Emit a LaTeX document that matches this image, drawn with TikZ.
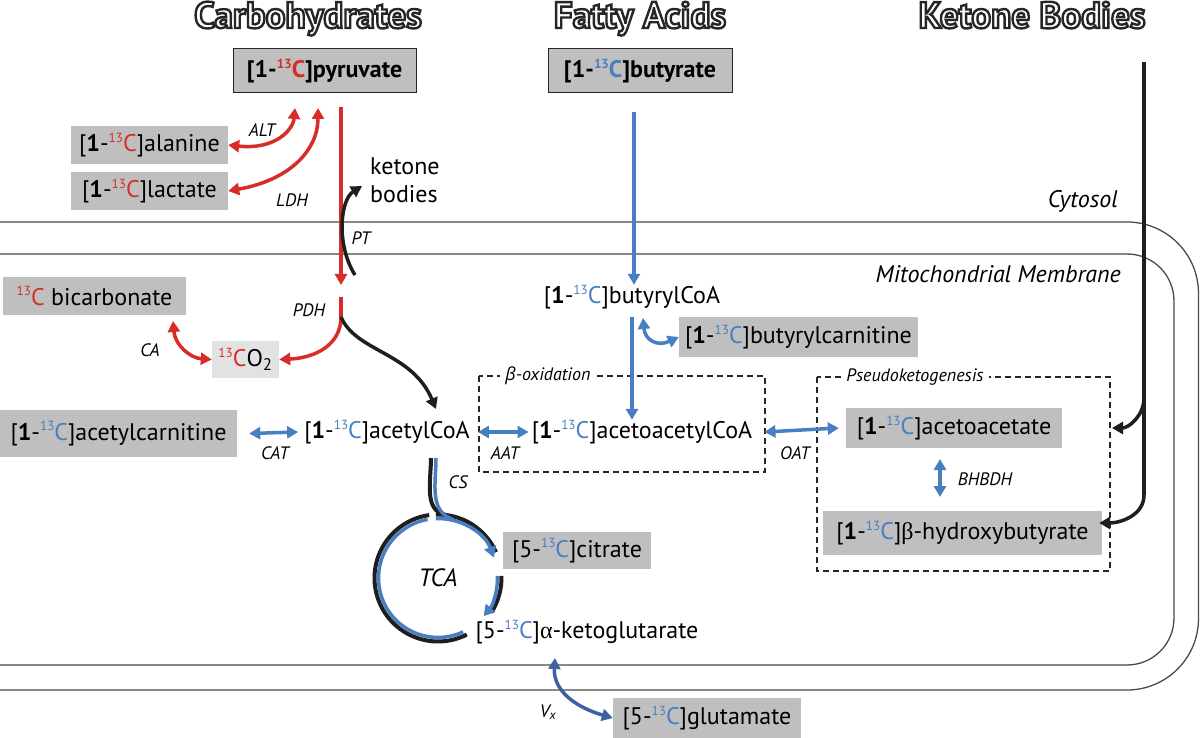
\documentclass[tikz,border=0pt]{standalone}
\usepackage{fontspec}
\setmainfont{PT Sans}
\newfontfamily\grsans{Open Sans}
\newfontfamily\grserif{Liberation Serif}
\usetikzlibrary{arrows.meta}
\definecolor{myred}{RGB}{214,45,40}
\definecolor{myblue}{RGB}{72,126,194}
\definecolor{vxblue}{RGB}{62,98,160}
\definecolor{boxgray}{RGB}{191,191,191}
\definecolor{lightbox}{RGB}{226,226,226}
\definecolor{memb}{RGB}{75,75,75}
\definecolor{kbl}{RGB}{30,30,30}
\definecolor{hdrline}{RGB}{40,40,40}
\newcommand\thirteen{\raisebox{0.38em}{\scalebox{0.55}{13}}}
\newcommand\iso[1]{\textcolor{#1}{\thirteen C}}
\newcommand\lone[2]{[\textbf{1}-\iso{#1}]#2}
\newcommand\lfive[1]{[5-\iso{myblue}]#1}
\newcommand\outlined[1]{\special{pdf:literal direct 0.15 0.15 0.15 RG 1 Tr 2.4 w}#1\special{pdf:literal direct 0 Tr 1 w}}
\tikzset{
  gbox/.style={fill=boxgray, inner sep=0pt, font=\fontsize{24}{28}\selectfont},
  txt/.style={inner sep=0pt, font=\fontsize{24}{28}\selectfont},
  lbl/.style={inner sep=0pt, font=\fontsize{18}{20}\selectfont\itshape},
  zone/.style={inner sep=0pt, font=\fontsize{24}{28}\selectfont\itshape, anchor=east},
  hdr/.style={inner sep=0pt, anchor=base, text=hdrline, font=\fontsize{37}{40}\selectfont\bfseries},
  membrane/.style={draw=memb, line width=1.3pt},
  dbox/.style={draw=black!85, line width=1.2pt, dash pattern=on 6pt off 4pt},
  tip/.style={-{Triangle[length=11pt,width=12pt]}},
  dtip/.style={{Triangle[length=11pt,width=12pt]}-{Triangle[length=11pt,width=12pt]}},
  redar/.style={draw=myred, line width=3.5pt},
  bluear/.style={draw=myblue, line width=3.5pt},
  blkar/.style={draw=kbl, line width=3.5pt},
}
\begin{document}
\begin{tikzpicture}[x=1pt,y=1pt]
\useasboundingbox (0,0) rectangle (1200,-738);
\fill[white] (0,0) rectangle (1200,-738);

% headers (outlined)
\node[hdr] (hcarb) at (308,-28) {\outlined{Carbohydrates}};
\node[hdr] (hfat) at (640,-28) {\outlined{Fatty Acids}};
\node[hdr] (hket) at (1032,-28) {\outlined{Ketone Bodies}};

% membranes
\path[membrane] (0,-222) -- (1127,-222) arc[start angle=90,end angle=0,radius=71.5] -- (1198.5,-618.5) arc[start angle=0,end angle=-90,radius=71.5] -- (0,-690);
\path[membrane] (0,-254) -- (1127,-254) arc[start angle=90,end angle=0,radius=47] -- (1174,-618) arc[start angle=0,end angle=-90,radius=47] -- (0,-665);
\node[zone] (cyto) at (1118,-201) {Cytosol};
\node[zone] (mito) at (1121,-274) {Mitochondrial Membrane};

% dashed boxes
\draw[dbox] (479,-376) rectangle (765,-472);
\node[lbl, fill=white, inner xsep=5pt, inner ysep=2pt] (betaox) at (548,-376) {{\grsans\itshape β}-oxidation};
\draw[dbox] (817,-377) rectangle (1110,-571);
\node[lbl, fill=white, inner xsep=5pt, inner ysep=2pt] (pseudo) at (915,-377) {Pseudoketogenesis};

% boxes
\node[gbox, draw=black!85, line width=1pt, minimum width=183pt, minimum height=44pt] (pyr) at (324.5,-71) {\textbf{[1-\iso{myred}]pyruvate}};
\node[gbox, draw=black!85, line width=1pt, minimum width=184pt, minimum height=44pt] (but) at (640,-71) {\textbf{[1-\iso{myblue}]butyrate}};
\node[gbox, minimum width=157pt, minimum height=38pt] (ala) at (149.5,-145) {\lone{myred}{alanine}};
\node[gbox, minimum width=157pt, minimum height=38pt] (lac) at (149.5,-191) {\lone{myred}{lactate}};
\node[gbox, minimum width=183pt, minimum height=38pt] (bic) at (94.5,-296) {\iso{myred} bicarbonate};
\node[gbox, fill=lightbox, minimum width=67pt, minimum height=37pt] (co2) at (245.5,-359.5) {\iso{myred}O\textsubscript{2}};
\node[gbox, minimum width=237pt, minimum height=47pt] (acarn) at (118.5,-433.5) {\lone{myblue}{acetylcarnitine}};
\node[gbox, minimum width=239pt, minimum height=40pt] (bcarn) at (798.5,-337) {\lone{myblue}{butyrylcarnitine}};
\node[gbox, minimum width=216pt, minimum height=40pt] (acac) at (954,-428) {\lone{myblue}{acetoacetate}};
\node[gbox, minimum width=279pt, minimum height=44pt] (bhb) at (962.5,-533) {\lone{myblue}{{\grserif β}-hydroxybutyrate}};
\node[gbox, minimum width=148pt, minimum height=37pt] (cit) at (577,-550.5) {\lfive{citrate}};
\node[gbox, minimum width=188pt, minimum height=40pt] (glu) at (707,-718) {\lfive{glutamate}};

% plain metabolites
\node[txt] (bcoa) at (632,-297) {\lone{myblue}{butyrylCoA}};
\node[txt] (acoa) at (387,-432) {\lone{myblue}{acetylCoA}};
\node[txt] (aacoa) at (642,-432) {\lone{myblue}{acetoacetylCoA}};
\node[txt] (akg) at (587,-632) {\lfive{{\grserif α}-ketoglutarate}};
\node[txt, align=left, anchor=west, font=\fontsize{24}{28}\selectfont] (kb) at (370,-180) {ketone\\bodies};

% enzyme labels
\node[lbl] (lalt) at (262,-130) {ALT};
\node[lbl] (lldh) at (292,-200) {LDH};
\node[lbl] (lpt) at (361,-238) {PT};
\node[lbl] (lpdh) at (309,-310) {PDH};
\node[lbl] (lca) at (150,-350) {CA};
\node[lbl] (lcat) at (275,-453) {CAT};
\node[lbl] (laat) at (505,-453) {AAT};
\node[lbl] (loat) at (795,-453) {OAT};
\node[lbl] (lcs) at (458,-482) {CS};
\node[lbl] (lbhbdh) at (985,-479) {BHBDH};
\node[lbl] (lvx) at (548,-712) {V\textsubscript{\itshape x}};
\node[lbl, font=\fontsize{25}{28}\selectfont\itshape] (ltca) at (438,-578) {TCA};

% coordinates
\coordinate (pyrout) at (341,-107);
\coordinate (pdhin) at (341,-285);
\coordinate (pdhout) at (341,-297);
\coordinate (pdhsplit) at (341,-317);
\coordinate (ptstart) at (355,-275);
\coordinate (kbtip) at (362,-186);
\coordinate (kstart) at (1144,-62);
\coordinate (kbranch) at (1144,-398);
\coordinate (kbend) at (1144,-495);

% red arrows
\draw[redar, tip] (pyrout) -- (pdhin);
\draw[redar] (pdhout) -- (pdhsplit);
\draw[redar, tip] (pdhsplit) .. controls (341,-345) and (315,-358) .. (co2.east);
\draw[redar, dtip] (ala.east) .. controls (275,-150) and (293,-130) .. (295,-108);
\draw[redar, dtip] (lac.east) .. controls (290,-180) and (318,-150) .. (318,-108);
\draw[redar, dtip] (173,-321) .. controls (175,-345) and (190,-358) .. (co2.west);

% black arrows
\draw[blkar, tip] (ptstart) .. controls (336,-245) and (340,-200) .. (kbtip);
\draw[blkar, tip] (pdhsplit) .. controls (356,-352) and (412,-352) .. (436,-409);
\draw[blkar] (kstart) -- (kbend);
\draw[blkar, tip] (kbend) to[out=-90,in=0] ([xshift=-3pt]bhb.east |- 0,-523);
\draw[blkar, tip] (kbranch) to[out=-90,in=0] (1112,-428);

% blue arrows
\draw[bluear, tip] (634,-112) -- (bcoa.north -| 634,0);
\draw[bluear, tip] (632,-317) -- (aacoa.north -| 632,0);
\draw[bluear, dtip] (643,-318) .. controls (645,-340) and (657,-347) .. (bcarn.west);
\draw[bluear, dtip] ([xshift=12pt]acarn.east) -- ([xshift=-6pt]acoa.west);
\draw[bluear, dtip] ([xshift=8pt]acoa.east) -- ([xshift=-3pt]aacoa.west);
\draw[bluear, dtip] ([xshift=12pt]aacoa.east) -- ([xshift=-7pt]acac.west);
\draw[bluear, dtip] (940,-459) -- (940,-497);

% TCA cycle
\draw[kbl, line width=4pt] ([shift={(98:63.5)}]438,-578) arc[start angle=98,end angle=297,radius=63.5];
\draw[bluear] ([shift={(100:59.5)}]438,-578) arc[start angle=100,end angle=295,radius=59.5];
\draw[kbl, line width=4pt] ([shift={(92:63.5)}]438,-578) arc[start angle=92,end angle=24,radius=63.5];
\draw[bluear, tip] ([shift={(92:59.5)}]438,-578) arc[start angle=92,end angle=20,radius=59.5];
\draw[kbl, line width=4pt] ([shift={(2:63.5)}]438,-578) arc[start angle=2,end angle=-33,radius=63.5];
\draw[bluear, tip] ([shift={(2:59.5)}]438,-578) arc[start angle=2,end angle=-40,radius=59.5];
\draw[kbl, line width=4pt] (431,-458) to[out=-90,in=170] (446,-515);
\draw[bluear] (436,-458) to[out=-90,in=160] (452,-519);

% Vx
\draw[draw=vxblue, line width=3.5pt, dtip] (555,-658) .. controls (553,-692) and (578,-708) .. (glu.west);
\end{tikzpicture}
\end{document}
